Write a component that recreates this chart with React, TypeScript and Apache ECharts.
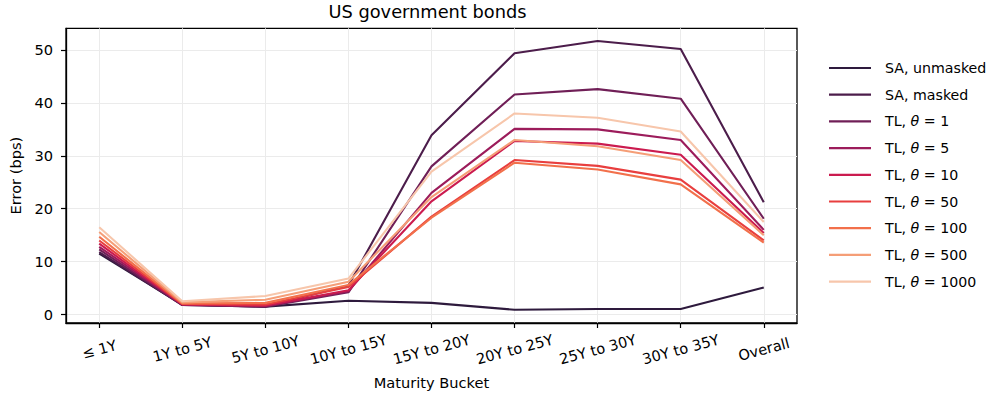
import React, { useEffect, useRef } from "react";
import * as echarts from "echarts";

const categories = ["≤ 1Y", "1Y to 5Y", "5Y to 10Y", "10Y to 15Y", "15Y to 20Y", "20Y to 25Y", "25Y to 30Y", "30Y to 35Y", "Overall"];
const seriesNames = ["SA, unmasked", "SA, masked", "TL, θ = 1", "TL, θ = 5", "TL, θ = 10", "TL, θ = 50", "TL, θ = 100", "TL, θ = 500", "TL, θ = 1000"];
const saUnmasked = [11.5, 1.9, 1.5, 2.6, 2.2, 0.9, 1.05, 1.05, 5.1];
const saMasked = [11.8, 1.8, 1.5, 5.5, 33.9, 49.4, 51.7, 50.2, 21.2];
const tl1 = [12.3, 1.8, 1.5, 4.2, 28.0, 41.6, 42.6, 40.8, 18.1];
const tl5 = [12.8, 1.9, 1.6, 4.4, 23.0, 35.1, 35.0, 33.0, 16.0];
const tl10 = [13.4, 1.9, 1.7, 4.6, 21.4, 32.8, 32.3, 30.2, 15.4];
const tl50 = [14.0, 2.0, 1.9, 5.2, 18.5, 29.2, 28.1, 25.5, 14.0];
const tl100 = [14.7, 2.1, 2.2, 5.6, 18.3, 28.7, 27.4, 24.6, 13.6];
const tl500 = [15.6, 2.3, 2.8, 6.2, 22.2, 33.0, 31.8, 29.2, 15.0];
const tl1000 = [16.5, 2.5, 3.5, 6.8, 27.0, 38.0, 37.2, 34.6, 17.5];
const allValues = [saUnmasked, saMasked, tl1, tl5, tl10, tl50, tl100, tl500, tl1000];
const colors = ["#2e1a3d", "#4c1d4b", "#701f57", "#9c1c5b", "#cb1b4f", "#e83f3f", "#f2704b", "#f59e77", "#f7c6ab"];
const yTicks = [0, 10, 20, 30, 40, 50];
const xTicks = categories.map((_, i) => i);

const FONT = "DejaVu Sans";
const AX = 14.6;
const LG = 14.2;

export default function App() {
  const ref = useRef<HTMLDivElement>(null);
  useEffect(() => {
    if (!ref.current) return;
    const chart = echarts.init(ref.current, null, { renderer: "svg" });
    chart.setOption({
      animation: false,
      backgroundColor: "#ffffff",
      textStyle: { fontFamily: FONT },
      title: {
        text: "US government bonds",
        left: 427.5,
        textAlign: "center",
        top: 0,
        padding: [2, 0, 0, 0],
        textStyle: { fontFamily: FONT, fontSize: 17.8, fontWeight: "normal", color: "#000" },
      },
      grid: {
        left: 58,
        right: 199,
        top: 28.3,
        bottom: 71.7,
        show: true,
        borderColor: "#000",
        borderWidth: 1.3,
        backgroundColor: "transparent",
      },
      legend: {
        orient: "vertical",
        left: 829,
        top: 60,
        padding: 0,
        itemWidth: 42,
        itemHeight: 2.2,
        itemGap: 10.7,
        icon: "rect",
        data: seriesNames,
        textStyle: {
          fontFamily: FONT,
          fontSize: LG,
          color: "#000",
          lineHeight: 16,
          padding: [0, 0, 0, 9],
          rich: {
            n: { fontFamily: FONT, fontSize: LG, color: "#000", lineHeight: 16 },
            i: { fontFamily: FONT, fontSize: LG, color: "#000", lineHeight: 16, fontStyle: "italic" },
          },
        },
        formatter: (name: string) => {
          const idx = name.indexOf("θ");
          if (idx < 0) return "{n|" + name + "}";
          return "{n|" + name.slice(0, idx) + "}{i|θ}{n|" + name.slice(idx + 1) + "}";
        },
      },
      xAxis: {
        type: "value",
        min: -0.4,
        max: 8.4,
        name: "Maturity Bucket",
        nameLocation: "middle",
        nameGap: 52,
        nameTextStyle: { fontFamily: FONT, fontSize: AX, color: "#000" },
        axisLine: { show: true, onZero: false, lineStyle: { color: "#000", width: 1.3 } },
        axisTick: { show: true, length: 5, customValues: xTicks, lineStyle: { color: "#000", width: 1.2 } },
        axisLabel: {
          customValues: xTicks,
          rotate: 15,
          align: "center",
          verticalAlign: "middle",
          margin: 26,
          fontFamily: FONT,
          fontSize: AX,
          color: "#000",
          formatter: (v: number) => categories[Math.round(v)] ?? "",
        },
        splitLine: { show: true, lineStyle: { color: "#ebebeb", width: 1 } },
      },
      yAxis: {
        type: "value",
        min: -1.6,
        max: 54.1,
        name: "Error (bps)",
        nameLocation: "middle",
        nameGap: 43,
        nameTextStyle: { fontFamily: FONT, fontSize: AX, color: "#000" },
        axisLine: { show: true, onZero: false, lineStyle: { color: "#000", width: 1.3 } },
        axisTick: { show: true, length: 5, customValues: yTicks, lineStyle: { color: "#000", width: 1.2 } },
        axisLabel: { customValues: yTicks, margin: 13, fontFamily: FONT, fontSize: AX, color: "#000" },
        splitLine: { show: true, lineStyle: { color: "#ebebeb", width: 1 } },
      },
      series: seriesNames.map((name, s) => ({
        name,
        type: "line",
        data: allValues[s].map((v, i) => [i, v]),
        showSymbol: false,
        symbol: "none",
        color: colors[s],
        lineStyle: { color: colors[s], width: 2.1 },
        z: 2,
      })),
    });
    return () => chart.dispose();
  }, []);
  return <div ref={ref} style={{ position: "fixed", left: 0, top: 0, width: 996, height: 395 }} />;
}
